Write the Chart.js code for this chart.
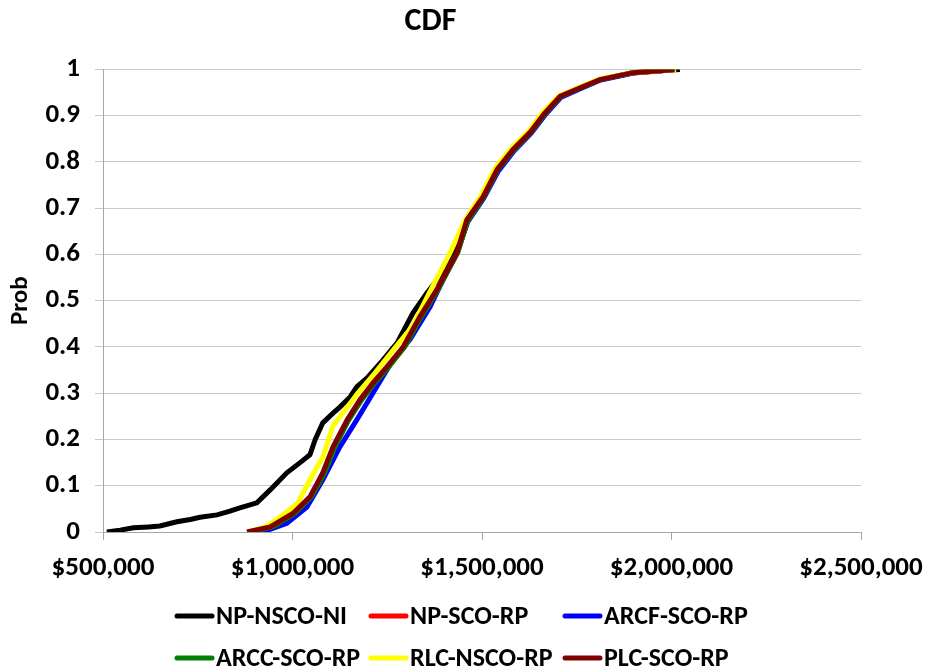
<!DOCTYPE html>
<html>
<head>
<meta charset="utf-8">
<script src="https://cdn.jsdelivr.net/npm/chart.js@4.4.1/dist/chart.umd.min.js"></script>
<style>
  body { margin: 0; background: #fff; }
  #wrap { width: 926px; height: 671px; }
</style>
</head>
<body>
<div id="wrap"><canvas id="cdfChart" width="926" height="671"></canvas></div>
<script>
// etiquetas de las series
const seriesNames = ["NP-NSCO-NI", "NP-SCO-RP", "ARCF-SCO-RP", "ARCC-SCO-RP", "RLC-NSCO-RP", "PLC-SCO-RP"];
const seriesColors = ["#000000", "#ff0000", "#0000ff", "#008000", "#ffff00", "#800000"];

const xTicks = [500000, 1000000, 1500000, 2000000, 2500000];
const yTicks = [0, 0.1, 0.2, 0.3, 0.4, 0.5, 0.6, 0.7, 0.8, 0.9, 1];

// NP-NSCO-NI
const npNscoX = [510000, 545000, 580000, 620000, 650000, 695000, 730000, 756000, 801000, 835000, 861000, 906000, 941000, 985000, 1020000, 1046000, 1060000, 1080000, 1107000, 1125000, 1152000, 1170000, 1197000, 1239000, 1276000, 1318000, 1355000, 1389000, 1423000, 1458000, 1500000, 1537000, 1580000, 1625000, 1663000, 1705000, 1765000, 1810000, 1898000, 1988000, 2022000];
const npNscoP = [0, 0.004, 0.009, 0.011, 0.013, 0.022, 0.027, 0.032, 0.037, 0.045, 0.052, 0.063, 0.091, 0.128, 0.15, 0.167, 0.2, 0.236, 0.257, 0.27, 0.292, 0.314, 0.333, 0.372, 0.409, 0.474, 0.517, 0.552, 0.604, 0.672, 0.725, 0.784, 0.827, 0.864, 0.905, 0.942, 0.963, 0.978, 0.993, 0.998, 1];

// NP-SCO-RP
const npScoX = [885000, 945000, 1004000, 1048000, 1083000, 1110000, 1147000, 1181000, 1215000, 1252000, 1295000, 1339000, 1383000, 1435000, 1462000, 1505000, 1542000, 1584000, 1629000, 1667000, 1708000, 1769000, 1812000, 1899000, 1988000, 2008000];
const npScoP = [0, 0.011, 0.04, 0.076, 0.128, 0.184, 0.242, 0.286, 0.322, 0.357, 0.4, 0.465, 0.524, 0.604, 0.672, 0.725, 0.784, 0.827, 0.864, 0.905, 0.942, 0.963, 0.978, 0.993, 0.998, 1];

// ARCF-SCO-RP
const arcfX = [922000, 985000, 1038000, 1080000, 1125000, 1170000, 1212000, 1265000, 1310000, 1363000, 1397000, 1434000, 1462000, 1505000, 1543000, 1585000, 1630000, 1668000, 1709000, 1770000, 1813000, 1900000, 1988000, 2008000];
const arcfP = [0, 0.019, 0.054, 0.113, 0.184, 0.243, 0.3, 0.372, 0.416, 0.487, 0.545, 0.604, 0.67, 0.722, 0.78, 0.824, 0.862, 0.903, 0.94, 0.962, 0.977, 0.992, 0.998, 1];

// ARCC-SCO-RP
const arccX = [890000, 948000, 1006000, 1050000, 1085000, 1112000, 1148000, 1183000, 1217000, 1254000, 1296000, 1340000, 1384000, 1436000, 1462000, 1505000, 1542000, 1585000, 1629000, 1667000, 1708000, 1769000, 1812000, 1899000, 1988000, 2008000];
const arccP = [0, 0.011, 0.04, 0.076, 0.128, 0.184, 0.242, 0.286, 0.322, 0.357, 0.4, 0.465, 0.524, 0.604, 0.672, 0.725, 0.784, 0.827, 0.864, 0.905, 0.942, 0.963, 0.978, 0.993, 0.998, 1];

// RLC-NSCO-RP
const rlcX = [880000, 930000, 980000, 1014000, 1046000, 1081000, 1106000, 1126000, 1145000, 1172000, 1218000, 1272000, 1316000, 1361000, 1416000, 1456000, 1498000, 1536000, 1578000, 1623000, 1660000, 1704000, 1765000, 1810000, 1897000, 1988000, 2012000];
const rlcP = [0, 0.011, 0.04, 0.063, 0.113, 0.163, 0.228, 0.25, 0.27, 0.3, 0.344, 0.4, 0.444, 0.517, 0.604, 0.675, 0.728, 0.788, 0.83, 0.866, 0.907, 0.943, 0.964, 0.979, 0.993, 0.998, 1];

// PLC-SCO-RP
const plcX = [880000, 941000, 1001000, 1046000, 1080000, 1107000, 1144000, 1178000, 1212000, 1249000, 1292000, 1336000, 1381000, 1434000, 1460000, 1503000, 1540000, 1582000, 1627000, 1665000, 1706000, 1767000, 1811000, 1898000, 1988000, 2008000];
const plcP = [0, 0.011, 0.04, 0.076, 0.128, 0.184, 0.242, 0.286, 0.322, 0.357, 0.4, 0.465, 0.524, 0.604, 0.675, 0.725, 0.784, 0.827, 0.864, 0.905, 0.942, 0.963, 0.978, 0.993, 0.998, 1];

const seriesX = [npNscoX, npScoX, arcfX, arccX, rlcX, plcX];
const seriesP = [npNscoP, npScoP, arcfP, arccP, rlcP, plcP];

function puntos(xs, ps) {
    return xs.map((x, i) => ({ x: x, y: ps[i] }));
}

const familia = "Carlito, Lato, 'Open Sans', sans-serif";
Chart.defaults.font.family = familia;
Chart.defaults.color = "#000";

// leyenda en rejilla de 3 columnas como la de Excel
const leyendaRejilla = {
    id: "leyendaRejilla",
    afterDraw(chart) {
        const ctx = chart.ctx;
        ctx.save();
        ctx.font = "bold 26px " + familia;
        ctx.textBaseline = "middle";
        ctx.textAlign = "left";
        seriesNames.forEach((name, i) => {
            const col = i % 3;
            const row = Math.floor(i / 3);
            const x0 = 175 + col * 194;
            const y = 616 + row * 42;
            ctx.strokeStyle = seriesColors[i];
            ctx.lineWidth = 5;
            ctx.lineCap = "round";
            ctx.beginPath();
            ctx.moveTo(x0 + 2, y);
            ctx.lineTo(x0 + 37, y);
            ctx.stroke();
            ctx.fillStyle = "#000";
            ctx.fillText(name, x0 + 41, y + 1);
        });
        ctx.restore();
    },
};

const ctx1 = document.getElementById("cdfChart").getContext("2d");
const grafica = new Chart(ctx1, {
    type: "scatter",
    data: {
        datasets: seriesNames.map((name, i) => ({
            label: name,
            data: puntos(seriesX[i], seriesP[i]),
            borderColor: seriesColors[i],
            backgroundColor: seriesColors[i],
            borderWidth: 5,
            showLine: true,
            pointRadius: 0,
            tension: 0,
            order: seriesNames.length - 1 - i,
        })),
    },
    options: {
        responsive: false,
        animation: false,
        layout: {
            padding: { left: 0, right: 65, top: 0, bottom: 89 },
        },
        plugins: {
            legend: { display: false },
            tooltip: { enabled: false },
            title: {
                display: true,
                text: "CDF",
                color: "#000",
                font: { size: 32, weight: "bold" },
                padding: { top: 3, bottom: 28 },
            },
        },
        scales: {
            x: {
                type: "linear",
                min: 500000,
                max: 2500000,
                afterBuildTicks: (s) => { s.ticks = xTicks.map((v) => ({ value: v })); },
                afterFit: (s) => { s.height = 50; s.paddingLeft = 0; s.paddingRight = 0; },
                ticks: {
                    font: { size: 27, weight: "bold" },
                    padding: 12,
                    maxRotation: 0,
                    callback: (v) => "$" + Number(v).toLocaleString("en-US"),
                },
                grid: { drawOnChartArea: false, drawTicks: true, tickLength: 8, color: "#a6a6a6" },
                border: { color: "#a6a6a6" },
            },
            y: {
                min: 0,
                max: 1,
                afterBuildTicks: (s) => { s.ticks = yTicks.map((v) => ({ value: v })); },
                afterFit: (s) => { s.width = 103; },
                ticks: {
                    font: { size: 27, weight: "bold" },
                    padding: 15,
                    callback: (v) => String(Math.round(v * 10) / 10),
                },
                title: {
                    display: true,
                    text: "Prob",
                    color: "#000",
                    font: { size: 25, weight: "bold" },
                    padding: { top: 6, bottom: 0 },
                },
                grid: { color: "#c8c8c8", tickLength: 8 },
                border: { color: "#a6a6a6" },
            },
        },
    },
    plugins: [leyendaRejilla],
});
</script>
</body>
</html>
